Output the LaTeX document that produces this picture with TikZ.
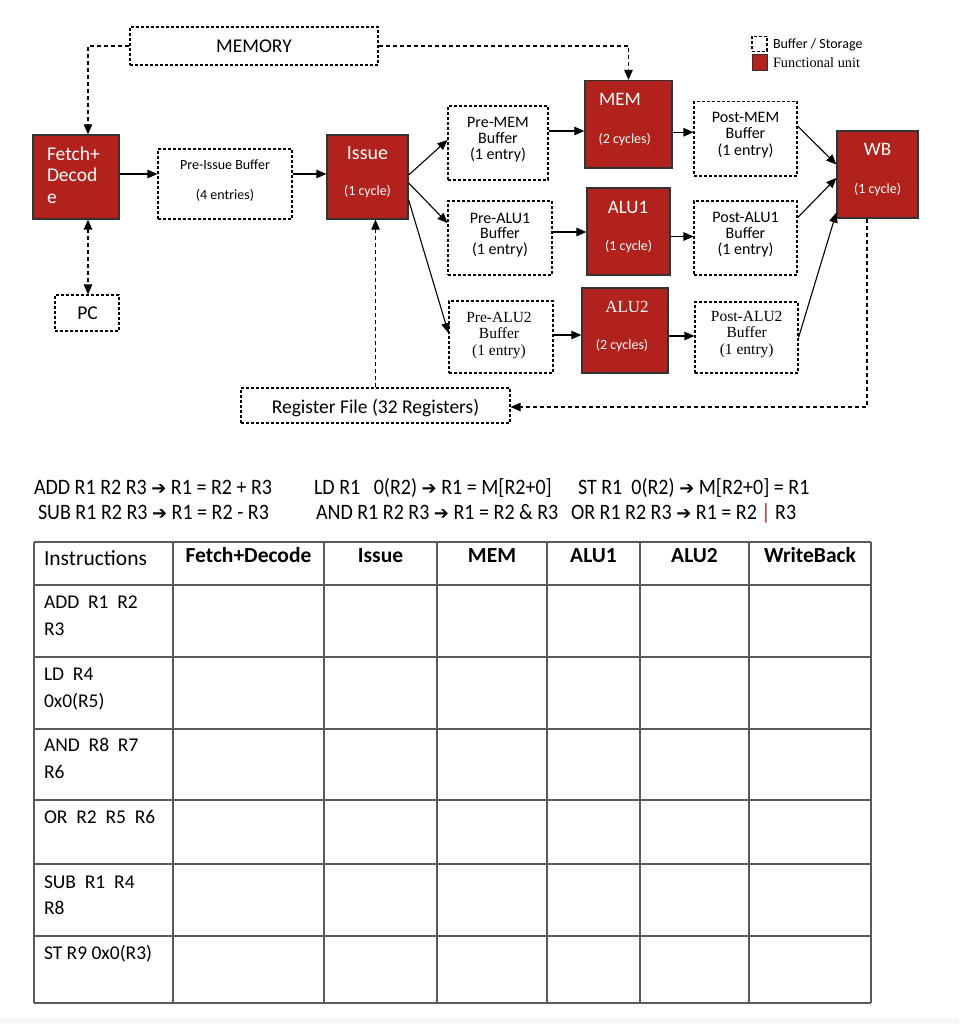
\documentclass[tikz,border=0pt]{standalone}
\usepackage{fontspec}
\setmainfont{Carlito}
\newfontfamily\serifx{Liberation Serif}
\newfontfamily\dejavu{DejaVu Sans}
\newfontfamily\condfont[FakeStretch=0.91]{Carlito}
\usetikzlibrary{arrows.meta}
\definecolor{fured}{RGB}{176,34,27}
\newcommand\fsz[1]{\fontsize{#1}{#1}\selectfont}
\newcommand\arr{{\dejavu\fontsize{18}{18}\selectfont ➔}}
\tikzset{
  buf/.style={draw=black, line width=1.1pt, dash pattern=on 3pt off 2pt, inner sep=0pt},
  fu/.style={draw=black!80, line width=1.3pt, fill=fured, inner sep=0pt},
  tl/.style={anchor=base, inner sep=0pt, outer sep=0pt},
  tlw/.style={anchor=base west, inner sep=0pt, outer sep=0pt},
  tw/.style={tl, text=white},
  ins/.style={tlw, font=\condfont\fsz{22}},
  conn/.style={line width=1.1pt, -{Triangle[length=10pt,width=8.5pt]}},
  dconn/.style={conn, dash pattern=on 4pt off 3pt},
  grid/.style={draw=black!65, line width=1.3pt},
}
\begin{document}
\begin{tikzpicture}[x=1pt,y=-1pt]
\useasboundingbox (0,0) rectangle (959,1024);
\fill[black!3] (0,1018) rectangle (959,1024);

% ---------- boxes ----------
\node[buf, minimum width=248pt, minimum height=38pt] (memory) at (254,46) {};
\node[fu, minimum width=86pt, minimum height=84pt] (fetch) at (76,177) {};
\node[buf, minimum width=134pt, minimum height=70pt] (preissue) at (225,184) {};
\node[fu, minimum width=81pt, minimum height=84pt] (issue) at (367.5,177) {};
\node[buf, minimum width=64pt, minimum height=36pt] (pc) at (87,313) {};
\node[buf, minimum width=269pt, minimum height=35pt] (regfile) at (375.5,405.5) {};
\node[buf, minimum width=100pt, minimum height=74pt] (premem) at (498,143) {};
\node[buf, minimum width=104pt, minimum height=74pt] (prealu1) at (500,238) {};
\node[buf, minimum width=104pt, minimum height=72pt] (prealu2) at (501,337) {};
\node[fu, minimum width=87pt, minimum height=87.5pt] (mem) at (628.5,124.25) {};
\node[fu, minimum width=83pt, minimum height=87pt] (alu1) at (628.5,231.5) {};
\node[fu, minimum width=86pt, minimum height=85pt] (alu2) at (625,330.5) {};
\node[buf, minimum width=103pt, minimum height=74.5pt] (postmem) at (745.5,138.75) {};
\node[buf, minimum width=103pt, minimum height=74pt] (postalu1) at (745.5,238) {};
\node[buf, minimum width=103pt, minimum height=71pt] (postalu2) at (746.5,337.5) {};
\node[fu, minimum width=81pt, minimum height=87pt] (wb) at (877.5,174.5) {};
\node[buf, minimum width=15pt, minimum height=15pt] (legbuf) at (759.5,44) {};
\node[fu, line width=1pt, minimum width=15pt, minimum height=16pt] (legfu) at (759.5,63) {};

% ---------- texts ----------
\node[tl] (memory-t) at (254,53) {\fsz{19.5}MEMORY};
\node[tlw, text=white] (fetch-t1) at (47,160.3) {\fsz{19.5}Fetch+};
\node[tlw, text=white] (fetch-t2) at (47,181.3) {\fsz{19.5}Decod};
\node[tlw, text=white] (fetch-t3) at (47,203.3) {\fsz{19.5}e};
\node[tl] (preissue-t1) at (225,169.5) {\fsz{14}Pre-Issue Buffer};
\node[tl] (preissue-t2) at (225,199.5) {\fsz{14}(4 entries)};
\node[tw] (issue-t1) at (367.5,159.4) {\fsz{20}Issue};
\node[tw] (issue-t2) at (367.5,195.5) {\fsz{14}(1 cycle)};
\node[tl] (pc-t) at (87.5,319.3) {\fsz{19.5}PC};
\node[tl] (regfile-t) at (375.5,413.3) {\fsz{19.5}Register File (32 Registers)};

\node[tl] (premem-t1) at (498,127.5) {\fsz{16}Pre-MEM};
\node[tl] (premem-t2) at (498,143.7) {\fsz{16}Buffer};
\node[tl] (premem-t3) at (498,159.9) {\fsz{16}(1 entry)};
\node[tl] (prealu1-t1) at (500,223.6) {\fsz{16}Pre-ALU1};
\node[tl] (prealu1-t2) at (500,238.9) {\fsz{16}Buffer};
\node[tl] (prealu1-t3) at (500,254.2) {\fsz{16}(1 entry)};
\node[tl] (prealu2-t1) at (499,322.1) {\serifx\fsz{15.5}Pre-ALU2};
\node[tl] (prealu2-t2) at (499,338.1) {\serifx\fsz{15.5}Buffer};
\node[tl] (prealu2-t3) at (499,355.1) {\serifx\fsz{15.5}(1 entry)};

\node[tw] (mem-t1) at (620,105.9) {\fsz{19}MEM};
\node[tw] (mem-t2) at (624.7,143.8) {\fsz{14}(2 cycles)};
\node[tw] (alu1-t1) at (628,213.5) {\fsz{19}ALU1};
\node[tw] (alu1-t2) at (628.7,250.5) {\fsz{14}(1 cycle)};
\node[tw] (alu2-t1) at (627,312.6) {\serifx\fsz{17}ALU2};
\node[tw] (alu2-t2) at (622,349.5) {\fsz{14}(2 cycles)};

\node[tl] (postmem-t1) at (745.5,122.1) {\fsz{16}Post-MEM};
\node[tl] (postmem-t2) at (745.5,138.6) {\fsz{16}Buffer};
\node[tl] (postmem-t3) at (745.5,155.1) {\fsz{16}(1 entry)};
\node[tl] (postalu1-t1) at (745.5,222.8) {\fsz{16}Post-ALU1};
\node[tl] (postalu1-t2) at (745.5,238.6) {\fsz{16}Buffer};
\node[tl] (postalu1-t3) at (745.5,254.4) {\fsz{16}(1 entry)};
\node[tl] (postalu2-t1) at (746.7,321.8) {\serifx\fsz{15.5}Post-ALU2};
\node[tl] (postalu2-t2) at (746.7,337.8) {\serifx\fsz{15.5}Buffer};
\node[tl] (postalu2-t3) at (746.7,354.4) {\serifx\fsz{15.5}(1 entry)};

\node[tw] (wb-t1) at (877.5,156) {\fsz{19}WB};
\node[tw] (wb-t2) at (877.5,193.5) {\fsz{14}(1 cycle)};

\node[tlw] (legbuf-t) at (773,48.5) {\fsz{14}Buffer / Storage};
\node[tlw] (legfu-t) at (773,67.7) {\serifx\fsz{14.3}Functional unit};

% ---------- connectors ----------
\draw[conn] ([yshift=3pt]fetch.east) -- ([yshift=3pt]fetch.east -| preissue.west);
\draw[conn] ([yshift=3pt]issue.west -| preissue.east) -- ([yshift=3pt]issue.west);
\draw[conn] ([yshift=2pt]issue.east) -- ([yshift=3pt]premem.west);
\draw[conn] ([yshift=-6pt]issue.east) -- ([yshift=15pt]prealu1.west);
\draw[conn] ([yshift=-23pt]issue.east) -- ([yshift=4pt]prealu2.west);
\draw[conn] ([yshift=12pt]premem.east) -- ([yshift=12pt]premem.east -| mem.west);
\draw[conn] ([yshift=-8pt]mem.east) -- ([yshift=-8pt]mem.east -| postmem.west);
\draw[conn] ([yshift=6pt]prealu1.east) -- ([yshift=6pt]prealu1.east -| alu1.west);
\draw[conn] ([yshift=-5pt]alu1.east) -- ([yshift=-5pt]alu1.east -| postalu1.west);
\draw[conn] ([yshift=2pt]prealu2.east) -- ([yshift=2pt]prealu2.east -| alu2.west);
\draw[conn] ([yshift=-5.5pt]alu2.east) -- ([yshift=-5.5pt]alu2.east -| postalu2.west);
\draw[conn] ([yshift=12.75pt]postmem.east) -- ([yshift=10pt]wb.west);
\draw[conn] ([yshift=20.3pt]postalu1.east) -- ([yshift=-3.5pt]wb.west);
\draw[conn] (postalu2.east) -- ([yshift=-38pt]wb.west);
\draw[dconn] (memory.west) -| ([xshift=12pt]fetch.north);
\draw[dconn] (memory.east) -| (mem.north);
\draw[dconn, {Triangle[length=10pt,width=8.5pt]}-{Triangle[length=10pt,width=8.5pt]}] ([xshift=12pt]fetch.south) -- ([xshift=1pt]pc.north);
\draw[dconn] (regfile.north) -- (regfile.north |- issue.south);
\draw[dconn] ([xshift=-10.5pt]wb.south) |- ([yshift=-1.5pt]regfile.east);

% ---------- instruction legend ----------
\node[ins] (ins1) at (34,494) {ADD R1 R2 R3 \arr{} R1 = R2 + R3};
\node[ins] (ins2) at (38,519) {SUB R1 R2 R3 \arr{} R1 = R2 - R3};
\node[ins] (ins3) at (314,494) {LD R1\ \ \ 0(R2) \arr{} R1 = M[R2+0]};
\node[ins] (ins4) at (316,519) {AND R1 R2 R3 \arr{} R1 = R2 \& R3};
\node[ins] (ins5) at (578,494) {ST R1\ \ 0(R2) \arr{} M[R2+0] = R1};
\node[ins] (ins6) at (571,519) {OR R1 R2 R3 \arr{} R1 = R2 {\color{fured}|} R3};

% ---------- table ----------
\foreach \yy in {542,585,657,729,800,864,936,1003}
  \draw[grid] (34,\yy) -- (871,\yy);
\foreach \xx in {34,173,324,437,547,640,749,871}
  \draw[grid] (\xx,542) -- (\xx,1003);

\node[tlw] (h0) at (44,565.9) {\fsz{21.5}Instructions};
\node[tl] (h1) at (248.5,562.7) {\fsz{21.5}\bfseries Fetch+Decode};
\node[tl] (h2) at (380.5,562.7) {\fsz{21.5}\bfseries Issue};
\node[tl] (h3) at (492,562.7) {\fsz{21.5}\bfseries MEM};
\node[tl] (h4) at (593.5,562.7) {\fsz{21.5}\bfseries ALU1};
\node[tl] (h5) at (694.5,562.7) {\fsz{21.5}\bfseries ALU2};
\node[tl] (h6) at (810,562.7) {\fsz{21.5}\bfseries WriteBack};

\node[tlw] (r1a) at (44,608.3) {\fsz{19.5}ADD\ \ R1\ \ R2};
\node[tlw] (r1b) at (44,635.3) {\fsz{19.5}R3};
\node[tlw] (r2a) at (44,680.3) {\fsz{19.5}LD\ \ R4};
\node[tlw] (r2b) at (44,707.3) {\fsz{19.5}0x0(R5)};
\node[tlw] (r3a) at (44,751.3) {\fsz{19.5}AND\ \ R8\ \ R7};
\node[tlw] (r3b) at (44,778.3) {\fsz{19.5}R6};
\node[tlw] (r4a) at (44,823.3) {\fsz{19.5}OR\ \ R2\ \ R5\ \ R6};
\node[tlw] (r5a) at (44,888.3) {\fsz{19.5}SUB\ \ R1\ \ R4};
\node[tlw] (r5b) at (44,914.3) {\fsz{19.5}R8};
\node[tlw] (r6a) at (44,959.6) {\fsz{19.5}ST R9 0x0(R3)};
\end{tikzpicture}
\end{document}
